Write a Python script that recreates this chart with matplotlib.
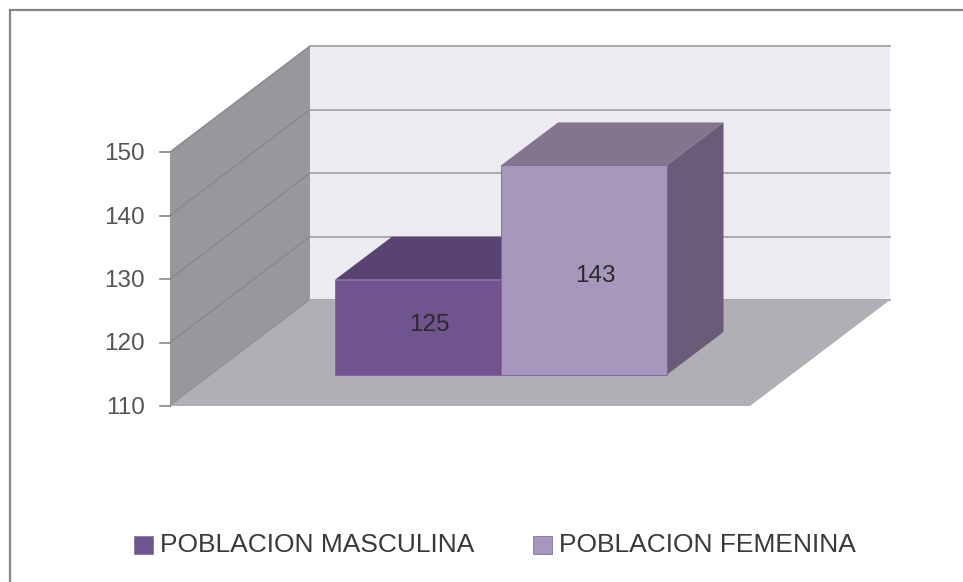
import matplotlib
matplotlib.use('Agg')
import matplotlib.pyplot as plt
from matplotlib.patches import Polygon, Rectangle

categories = ['POBLACION MASCULINA', 'POBLACION FEMENINA']
values = [125, 143]
ticks = [110, 120, 130, 140, 150]
front_colors = ['#6f5490', '#a897bd']
top_colors = ['#5a4274', '#84748e']
side_colors = ['#5a4274', '#6a5c78']

# pixel geometry of the fake 3d box
x0, y0 = 170, 406
unit = 6.35
dx_wall, dy_wall = 140, -106
wall_w = 580
bar_x = [335, 501]
bar_w = 165.5
bar_base = 375
dx_bar, dy_bar = 57, -43
label_shift = [-2, 6]

fig = plt.figure(figsize=(9.63, 5.82), dpi=100)
ax = fig.add_axes([0, 0, 1, 1])
ax.set_xlim(0, 963)
ax.set_ylim(582, 0)
ax.axis('off')

def val_y(v, base=y0):
    return base - (v - ticks[0]) * unit

# frame
ax.plot([10, 10], [582, 10], color='#858585', lw=1.6)
ax.plot([10, 963], [10, 10], color='#858585', lw=1.6)

# back wall, side wall, floor
top = val_y(ticks[-1])
ax.add_patch(Polygon([(x0 + dx_wall, top + dy_wall), (x0 + dx_wall + wall_w, top + dy_wall),
                      (x0 + dx_wall + wall_w, y0 + dy_wall), (x0 + dx_wall, y0 + dy_wall)],
                     fc='#ecebf1', ec='none', zorder=1))
ax.add_patch(Polygon([(x0, top), (x0 + dx_wall, top + dy_wall),
                      (x0 + dx_wall, y0 + dy_wall), (x0, y0)],
                     fc='#98979b', ec='none', zorder=1))

for t in ticks:
    y = val_y(t)
    ax.plot([x0, x0 + dx_wall], [y, y + dy_wall], color='#88878b', lw=1, zorder=2)
    ax.plot([x0 + dx_wall, x0 + dx_wall + wall_w], [y + dy_wall, y + dy_wall],
            color='#a3a2a7', lw=1.3, zorder=2)
    ax.plot([x0 - 10, x0], [y, y], color='#8a8a8a', lw=1.2, zorder=2)
    ax.text(145, y + 2, str(t), ha='right', va='center', fontsize=17.5,
            color='#555555', family='Liberation Sans')

# floor goes over the lowest gridline
ax.add_patch(Polygon([(x0, y0), (x0 + dx_wall, y0 + dy_wall),
                      (x0 + dx_wall + wall_w, y0 + dy_wall), (x0 + wall_w, y0)],
                     fc='#b0afb3', ec='none', zorder=3))

# bars, drawn left to right so the taller one overlaps
for i in range(len(values)):
    l = bar_x[i]
    r = l + bar_w
    t = val_y(values[i], bar_base)
    ax.add_patch(Polygon([(l, t), (l + dx_bar, t + dy_bar), (r + dx_bar, t + dy_bar), (r, t)],
                         fc=top_colors[i], ec='none', zorder=4))
    ax.add_patch(Polygon([(r, t), (r + dx_bar, t + dy_bar),
                          (r + dx_bar, bar_base + dy_bar), (r, bar_base)],
                         fc=side_colors[i], ec='none', zorder=4))
for i in range(len(values)):
    l = bar_x[i]
    t = val_y(values[i], bar_base)
    ax.add_patch(Rectangle((l, t), bar_w, bar_base - t, fc=front_colors[i], ec='#7c649a',
                           lw=0.6, zorder=5))
    ax.text(l + bar_w * 0.57, (t + bar_base) / 2 + label_shift[i],
            str(values[i]), ha='center', va='center', fontsize=17.5, color='#2a2a2a',
            family='Liberation Sans', zorder=6)

# legend
leg_x = [134, 533]
for i in range(len(categories)):
    ax.add_patch(Rectangle((leg_x[i], 536), 19, 18, fc=front_colors[i], ec='#8f7fa8', lw=0.7))
    ax.text(leg_x[i] + 26, 545, categories[i], ha='left', va='center', fontsize=19,
            color='#3a3a3a', family='Liberation Sans')

fig.savefig('out.png', dpi=100)
